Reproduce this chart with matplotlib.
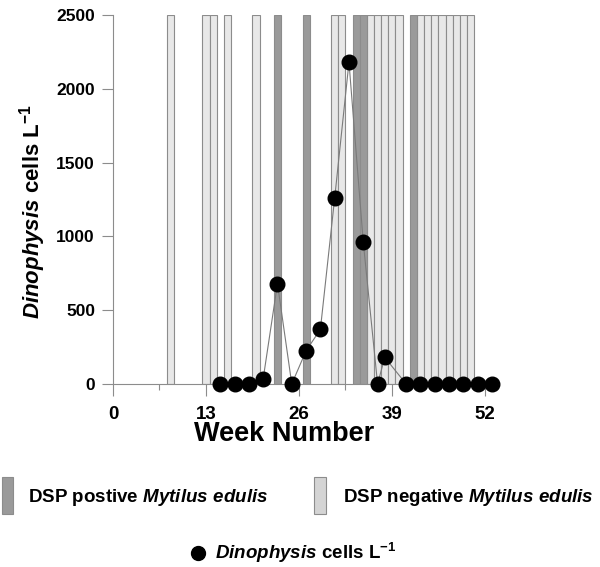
import matplotlib
matplotlib.use("Agg")
import matplotlib.pyplot as plt
from matplotlib.patches import Rectangle
from matplotlib.lines import Line2D

plt.rcParams['font.family'] = ['Liberation Sans', 'DejaVu Sans']
plt.rcParams['font.weight'] = 'bold'
plt.rcParams['mathtext.fontset'] = 'custom'
plt.rcParams['mathtext.it'] = 'Liberation Sans:italic:bold'
plt.rcParams['mathtext.rm'] = 'Liberation Sans:bold'
plt.rcParams['mathtext.bf'] = 'Liberation Sans:bold'

# Data
positive_weeks = [23, 27, 34, 35, 42]
negative_weeks = [8, 13, 14, 16, 20, 31, 32, 36, 37, 38, 39, 40,
                  43, 44, 45, 46, 47, 48, 49, 50]
bar_height = 2500

dino_weeks = [15, 17, 19, 21, 23, 25, 27, 29, 31, 33, 35, 37, 38,
              41, 43, 45, 47, 49, 51, 53]
dino_cells = [0, 0, 0, 35, 680, 0, 225, 370, 1260, 2180, 960, 0, 180,
              0, 0, 0, 0, 0, 0, 0]

x_major = [0, 13, 26, 39, 52]
x_minor = [6.5, 19.5, 32.5, 45.5]
y_ticks = [0, 500, 1000, 1500, 2000, 2500]

dark = '#9a9a9a'
light = '#e8e8e8'
edge = '#8c8c8c'
axis_col = '#8c8c8c'

fig = plt.figure(figsize=(6, 5.67), dpi=100)
ax = fig.add_axes([113/600, 183/567, 379/600, 369/567])

ax.bar(negative_weeks, bar_height, width=1, color=light, edgecolor=edge,
       linewidth=0.8, zorder=1)
ax.bar(positive_weeks, bar_height, width=1, color=dark, edgecolor=edge,
       linewidth=0.8, zorder=1)
ax.plot(dino_weeks, dino_cells, color='#7a7a7a', lw=0.8, zorder=2)
ax.plot(dino_weeks, dino_cells, 'o', ms=10.5, color='black', zorder=3,
        clip_on=False)

ax.set_xlim(0, 53)
ax.set_ylim(0, 2500)
ax.set_xticks(x_major)
ax.set_xticks(x_minor, minor=True)
ax.set_yticks(y_ticks)
for s in ['top', 'right']:
    ax.spines[s].set_visible(False)
for s in ['left', 'bottom']:
    ax.spines[s].set_color(axis_col)
    ax.spines[s].set_linewidth(0.8)
ax.tick_params(axis='x', which='major', length=8.5, width=0.8, color=axis_col,
               labelsize=13.5, pad=7)
ax.tick_params(axis='x', which='minor', length=4.3, width=0.8, color=axis_col)
ax.tick_params(axis='y', length=8, width=0.8, color=axis_col, labelsize=12.5, pad=5)
for lab in ax.get_xticklabels() + ax.get_yticklabels():
    lab.set_fontweight('bold')

fig.text(284/600, 1 - 441/567, 'Week Number', fontsize=19.5, fontweight='bold',
         ha='center', va='baseline')
fig.text(33/600, 1 - 212/567, r'$\mathit{Dinophysis}$ cells L$^{\mathrm{-1}}$',
         fontsize=16, fontweight='bold', rotation=90, ha='center', va='center')

# Legend
fig.add_artist(Rectangle((2/600, 1 - 514/567), 11/600, 37/567,
                         transform=fig.transFigure, facecolor=dark,
                         edgecolor=edge, linewidth=0.8))
fig.text(28/600, 1 - 502/567, r'DSP postive $\mathit{Mytilus\ edulis}$',
         fontsize=13.5, fontweight='bold', va='baseline')
fig.add_artist(Rectangle((314/600, 1 - 514/567), 12/600, 37/567,
                         transform=fig.transFigure, facecolor='#d4d4d4',
                         edgecolor=edge, linewidth=0.8))
fig.text(343/600, 1 - 502/567, r'DSP negative $\mathit{Mytilus\ edulis}$',
         fontsize=13.5, fontweight='bold', va='baseline')
fig.add_artist(Line2D([198/600], [1 - 553/567], marker='o', ms=10, color='black',
                      transform=fig.transFigure))
fig.text(215/600, 1 - 559/567, r'$\mathit{Dinophysis}$ cells L$^{\mathrm{-1}}$',
         fontsize=13.5, fontweight='bold', va='baseline')

fig.savefig('out.png', dpi=100)
